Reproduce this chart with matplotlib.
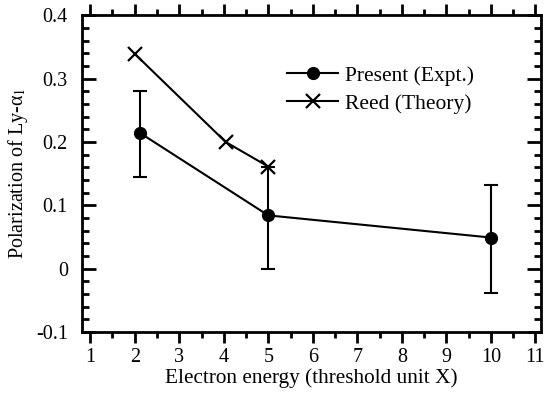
import numpy as np
import matplotlib
matplotlib.use('Agg')
import matplotlib.pyplot as plt
from matplotlib.ticker import MultipleLocator
from matplotlib.lines import Line2D

plt.rcParams['font.family'] = 'Liberation Serif'
plt.rcParams['mathtext.fontset'] = 'stix'

# Present (Expt.)
x_expt = [2.12, 5.0, 10.0]
y_expt = [0.214, 0.084, 0.049]
err_lo = [0.069, 0.085, 0.087]
err_hi = [0.066, 0.077, 0.083]

# Reed (Theory)
x_theo = [2.0, 4.04, 5.0]
y_theo = [0.339, 0.200, 0.161]

xticks = np.arange(1, 12)
yticks = [-0.1, 0, 0.1, 0.2, 0.3, 0.4]
ytick_labels = ['-0.1', '0', '0.1', '0.2', '0.3', '0.4']

fig = plt.figure(figsize=(5.45, 3.99), dpi=100)
ax = fig.add_axes([0.150, 0.168, 0.843, 0.794])

ax.errorbar(x_expt, y_expt, yerr=[err_lo, err_hi], color='k', lw=1.5,
            marker='o', ms=8.5, capsize=5, capthick=1.5, elinewidth=1.5)
ax.plot(x_theo, y_theo, color='k', lw=1.5, marker='x', ms=10, mew=1.6)

ax.set_xlim(0.81, 11.13)
ax.set_ylim(-0.1, 0.4)
ax.set_xticks(xticks)
ax.xaxis.set_minor_locator(MultipleLocator(0.5))
ax.set_yticks(yticks)
ax.set_yticklabels(ytick_labels)
ax.yaxis.set_minor_locator(MultipleLocator(0.02))

ax.tick_params(axis='x', which='both', direction='out', top=True, bottom=True,
               labelsize=14.5, width=2)
ax.tick_params(axis='x', which='major', length=8)
ax.tick_params(axis='x', which='minor', length=4)
ax.tick_params(axis='y', which='both', direction='in', left=True, right=True,
               labelsize=14.5, width=2)
ax.tick_params(axis='y', which='major', length=10, pad=10)
ax.tick_params(axis='y', which='minor', length=5)
for s in ax.spines.values():
    s.set_linewidth(2)

ax.set_xlabel('Electron energy (threshold unit X)', fontsize=15.3, labelpad=1)
ax.set_ylabel('Polarization of Ly-α$_1$', fontsize=14.5, labelpad=4)

handles = [Line2D([], [], color='k', lw=1.5, marker='o', ms=8.5),
           Line2D([], [], color='k', lw=1.5, marker='x', ms=10, mew=1.6)]
labels = ['Present (Expt.)', 'Reed (Theory)']
ax.legend(handles, labels, loc='upper left', bbox_to_anchor=(0.447, 0.84),
          borderaxespad=0, borderpad=0, frameon=False, fontsize=15.5,
          handlelength=2.37, handletextpad=0.33, labelspacing=0.35)

fig.savefig('out.png', dpi=100)
